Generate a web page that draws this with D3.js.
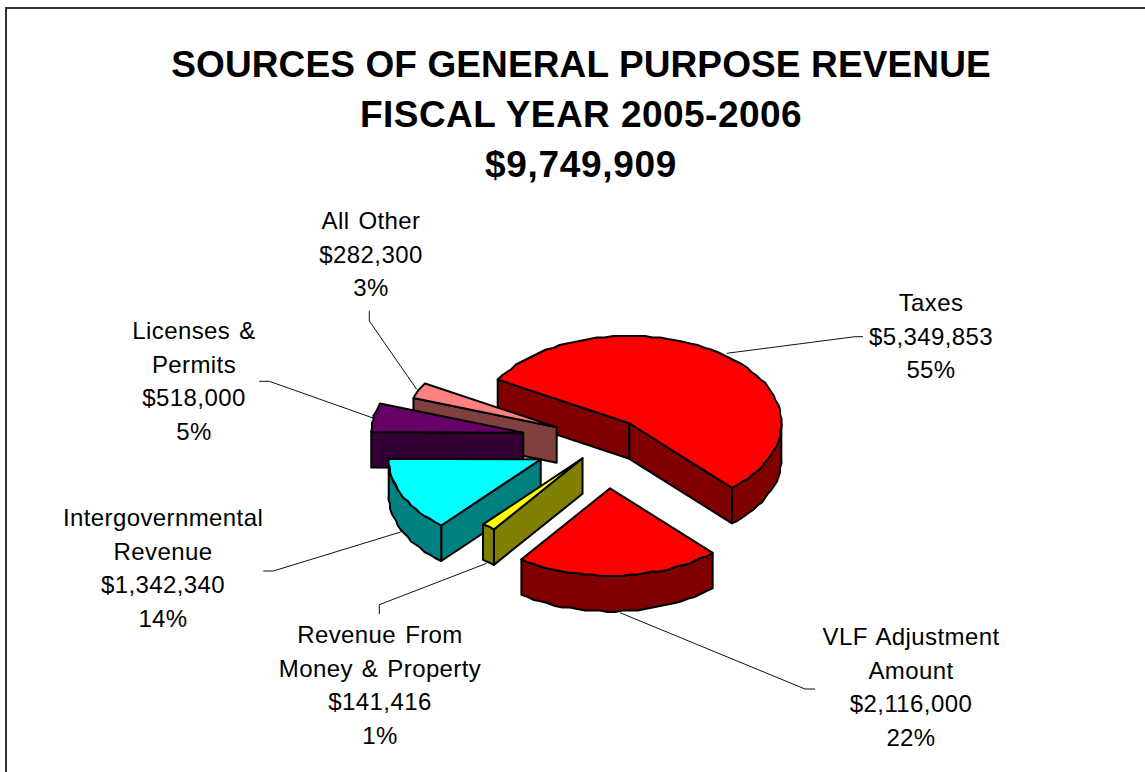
<!DOCTYPE html>
<html>
<head>
<meta charset="utf-8">
<style>html,body{margin:0;padding:0;background:#fff}svg{display:block}</style>
<script src="https://cdn.jsdelivr.net/npm/d3@7"></script>
</head>
<body>
<svg id="chart" width="1145" height="772"></svg>
<script>
// ---- data ----
const titleLines = ["SOURCES OF GENERAL PURPOSE REVENUE", "FISCAL YEAR 2005-2006"];
const categories = ["Taxes", "VLF Adjustment Amount", "Revenue From Money & Property", "Intergovernmental Revenue", "Licenses & Permits", "All Other"];
const values = [5349853, 2116000, 141416, 1342340, 518000, 282300];
const labelNameLines = [["Taxes"], ["VLF Adjustment", "Amount"], ["Revenue From", "Money & Property"], ["Intergovernmental", "Revenue"], ["Licenses &", "Permits"], ["All Other"]];

// ---- styles and layout ----
const topColors = ["#ff0000", "#ff0000", "#ffff00", "#00ffff", "#660066", "#ff8080"];
const sideColors = ["#800000", "#800000", "#808000", "#008080", "#330033", "#804040"];
const explodeX = [0.193, 0.066, -0.115, -0.390, -0.505, -0.285];
const explodeY = [-0.248, 0.495, 0.152, 0.164, -0.140, -0.203];
const drawOrder = [0, 5, 4, 3, 2, 1];
const labelX = [931, 911, 380, 163, 194, 371];
const labelY = [311, 645, 643, 526, 339, 229];
const labelLeading = 33.5;
const titleSpacing = [0.12, 0.45, 0.7];
const leaders = [
  [[863, 336.7], [855, 336.7], [726.7, 353.3]],
  [[815, 689], [805, 689], [620, 612.7]],
  [[379.3, 614], [379.3, 604.7], [486.7, 563.3]],
  [[263.3, 571], [273.3, 571], [401.7, 531.7]],
  [[259.3, 381.3], [269.3, 381.3], [373, 418]],
  [[369.3, 310.7], [369.3, 321], [416.7, 389.3]]
];
const depth = 35.5;
const rimGrid = 1.5;
const deg = Math.PI / 180;

const svg = d3.select("#chart");
const x = d3.scaleLinear().domain([-1, 1]).range([448, 752]);
const y = d3.scaleLinear().domain([-1, 1]).range([357.5, 532.5]);

// frame
svg.append("path").attr("d", d3.line()([[6, 772], [6, 8], [1145, 8]]))
  .attr("fill", "none").attr("stroke", "#333").attr("stroke-width", 2);

// title
const title = svg.append("g").attr("font-family", "'Liberation Sans', Arial, sans-serif")
  .attr("font-weight", "bold").attr("font-size", 37).attr("text-anchor", "middle").attr("fill", "#000");
const total = d3.sum(values);
title.selectAll("text").data([...titleLines, d3.format("$,")(total)]).join("text")
  .attr("x", 581).attr("y", (d, i) => 77 + i * 50)
  .attr("letter-spacing", (d, i) => titleSpacing[i]).text(d => d);

// leader lines
const lineGen = d3.line();
svg.append("g").selectAll("path").data(leaders).join("path")
  .attr("d", lineGen).attr("fill", "none").attr("stroke", "#111").attr("stroke-width", 1);

// pie geometry
const pie = d3.pie().sort(null).startAngle(-60 * deg).endAngle(300 * deg);
const arcs = pie(values);

function pt(i, angle, drop) {
  const d = drop || 0;
  return [x(explodeX[i] + Math.sin(angle)), y(explodeY[i] - Math.cos(angle)) + d];
}
function apex(i, drop) {
  return [x(explodeX[i]), y(explodeY[i]) + (drop || 0)];
}
// the rim is a coarse polygon snapped to a small grid, which gives its stepped outline
function arcPoints(i, a0, a1, drop) {
  const n = Math.max(2, Math.ceil(Math.abs(a1 - a0) / (3 * deg)));
  return d3.range(n + 1).map(k => {
    const p = pt(i, a0 + (a1 - a0) * k / n, drop);
    if (k === 0 || k === n) return p;
    return [Math.round(p[0] / rimGrid) * rimGrid, Math.round(p[1] / rimGrid) * rimGrid];
  });
}
function closed(points) { return lineGen(points) + "Z"; }

const pieGroup = svg.append("g").attr("stroke", "#000").attr("stroke-width", 2).attr("stroke-linejoin", "round");

drawOrder.forEach(i => {
  const a = arcs[i];
  const g = pieGroup.append("g").attr("class", "slice");
  const s0 = a.startAngle, s1 = a.endAngle;
  // radial wall at the start edge
  if (Math.sin(s0) < 0) {
    g.append("path").attr("fill", sideColors[i])
      .attr("d", closed([apex(i), pt(i, s0), pt(i, s0, depth), apex(i, depth)]));
  }
  // radial wall at the end edge
  if (Math.sin(s1) > 0) {
    g.append("path").attr("fill", sideColors[i])
      .attr("d", closed([apex(i), pt(i, s1), pt(i, s1, depth), apex(i, depth)]));
  }
  // outer wall, front half of the rim only
  const w0 = Math.max(s0, 90 * deg), w1 = Math.min(s1, 270 * deg);
  if (w1 > w0) {
    g.append("path").attr("fill", sideColors[i])
      .attr("d", closed([...arcPoints(i, w0, w1), ...arcPoints(i, w1, w0, depth)]));
  }
  // top face
  g.append("path").attr("fill", topColors[i])
    .attr("d", closed([apex(i), ...arcPoints(i, s0, s1)]));
});

// labels
const fmtMoney = d3.format("$,"), fmtPct = d3.format(".0%");
const labels = svg.append("g").attr("font-family", "'Liberation Sans', Arial, sans-serif")
  .attr("font-size", 24).attr("letter-spacing", 0.4).attr("word-spacing", 2)
  .attr("text-anchor", "middle").attr("fill", "#000");
categories.forEach((c, i) => {
  const lines = [...labelNameLines[i], fmtMoney(values[i]), fmtPct(values[i] / total)];
  labels.append("g").attr("data-category", c).selectAll("text").data(lines).join("text")
    .attr("x", labelX[i]).attr("y", (d, k) => labelY[i] + k * labelLeading).text(d => d);
});
</script>
</body>
</html>
